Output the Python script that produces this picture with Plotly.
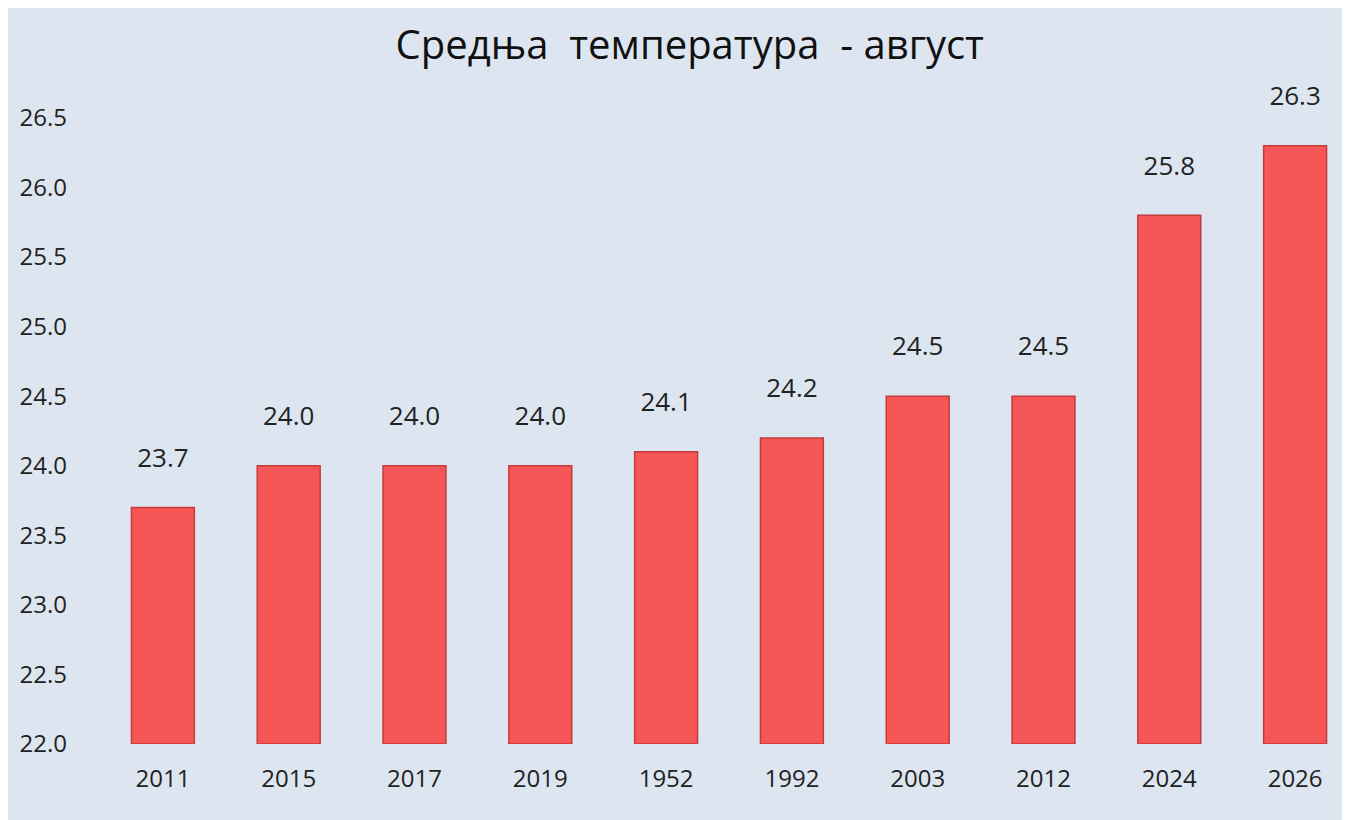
import plotly.graph_objects as go

# data
years = ["2011", "2015", "2017", "2019", "1952", "1992", "2003", "2012", "2024", "2026"]
temps = [23.7, 24.0, 24.0, 24.0, 24.1, 24.2, 24.5, 24.5, 25.8, 26.3]
labels = ["23.7", "24.0", "24.0", "24.0", "24.1", "24.2", "24.5", "24.5", "25.8", "26.3"]
ytick_vals = [22.0, 22.5, 23.0, 23.5, 24.0, 24.5, 25.0, 25.5, 26.0, 26.5]

fig = go.Figure(
    go.Bar(
        x=years,
        y=[t - 22 for t in temps],  # heights above the 22.0 base
        base=22,
        width=0.5,
        text=[l + "<br><span style='font-size:12px'> </span>" for l in labels],
        textposition="outside",
        textfont=dict(size=26, color="#222"),
        marker=dict(color="#f75656", line=dict(color="#c43a3a", width=1.5)),
        cliponaxis=False,
    )
)

fig.update_layout(
    width=1350, height=820,
    paper_bgcolor="#dde6f0", plot_bgcolor="#dde6f0",
    margin=dict(l=92, r=0, t=96, b=84),
    font=dict(family="Open Sans, DejaVu Sans", color="#222"),
    title=dict(text="Средња  температура  - август", x=0.505, xanchor="center",
               y=0.955, yanchor="middle", font=dict(size=40, color="#111")),
    showlegend=False,
)
fig.update_xaxes(tickfont=dict(size=24, color="#222"), showline=False, ticks="",
                 ticklabelstandoff=18)
fig.update_yaxes(range=[22, 26.6], tickvals=ytick_vals,
                 ticktext=[f"{v:.1f}" for v in ytick_vals],
                 tickfont=dict(size=24, color="#222"),
                 showgrid=False, zeroline=False, ticklabelstandoff=32)

fig.write_html("out.html")
